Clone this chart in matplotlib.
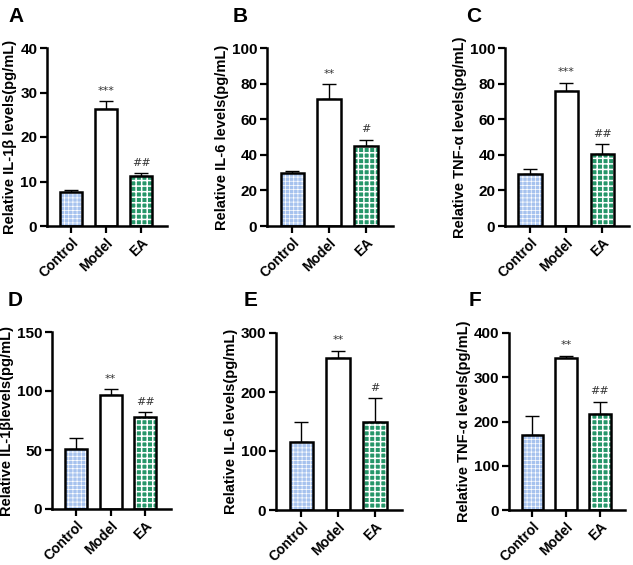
import matplotlib
matplotlib.use('Agg')
import matplotlib.pyplot as plt

plt.rcParams['font.family'] = ['Liberation Sans', 'DejaVu Sans']

groups = ['Control', 'Model', 'EA']

# panel values (mean) and upper error-bar tops
a_mean = [7.7, 26.3, 11.3]
a_top = [8.2, 28.0, 11.8]
b_mean = [30.0, 71.5, 45.0]
b_top = [31.0, 79.5, 48.5]
c_mean = [29.0, 76.0, 40.5]
c_top = [32.0, 80.5, 46.0]
d_mean = [50.5, 97.0, 78.0]
d_top = [60.0, 101.5, 82.0]
e_mean = [115.0, 258.0, 150.0]
e_top = [149.0, 270.0, 190.0]
f_mean = [170.0, 344.0, 216.0]
f_top = [213.0, 349.0, 245.0]

a_sig = ['', '***', '##']
b_sig = ['', '**', '#']
c_sig = ['', '***', '##']
d_sig = ['', '**', '##']
e_sig = ['', '**', '#']
f_sig = ['', '**', '##']

face_colors = ['#a6c2ee', 'white', '#269669']
hatches = ['++++', None, '+++']
hatch_lw = [0.5, 0, 1.1]

W, H = 633, 565
fig = plt.figure(figsize=(W / 100, H / 100), dpi=100)

panels = [
    ('A', 47, 167, 48, 226, a_mean, a_top, a_sig, 40, 10, 'Relative IL-1β levels(pg/mL)'),
    ('B', 267, 393, 48, 226, b_mean, b_top, b_sig, 100, 20, 'Relative IL-6 levels(pg/mL)'),
    ('C', 505, 629, 48, 226, c_mean, c_top, c_sig, 100, 20, 'Relative TNF-α levels(pg/mL)'),
    ('D', 52, 171, 332, 509, d_mean, d_top, d_sig, 150, 50, 'Relative IL-1βlevels(pg/mL)'),
    ('E', 276, 402, 333, 510, e_mean, e_top, e_sig, 300, 100, 'Relative IL-6 levels(pg/mL)'),
    ('F', 509, 625, 333, 510, f_mean, f_top, f_sig, 400, 100, 'Relative TNF-α levels(pg/mL)'),
]

label_pos = {'A': (8, 16), 'B': (233, 16), 'C': (466, 16),
             'D': (8, 301), 'E': (244, 301), 'F': (469, 301)}

for name, x0, x1, y0, y1, mean, top, sig, ymax, step, ylab in panels:
    ax = fig.add_axes([x0 / W, 1 - y1 / H, (x1 - x0) / W, (y1 - y0) / H])
    x = list(range(len(groups)))
    up = [t - m for t, m in zip(top, mean)]
    ax.errorbar(x, mean, yerr=[[0] * 3, up], fmt='none', ecolor='black',
                elinewidth=1.0, capsize=5, capthick=1.0, zorder=1)
    for i in x:
        if hatches[i]:
            with plt.rc_context({'hatch.linewidth': hatch_lw[i]}):
                ax.bar(i, mean[i], width=0.64, color=face_colors[i], hatch=hatches[i],
                       edgecolor='white', linewidth=0, zorder=2)
        else:
            ax.bar(i, mean[i], width=0.64, color=face_colors[i], linewidth=0, zorder=2)
        ax.bar(i, mean[i], width=0.64, fill=False, edgecolor='black',
               linewidth=1.8, zorder=3)
        if sig[i]:
            ax.text(i, top[i] + ymax * 0.03, sig[i], ha='center', va='bottom',
                    fontsize=8, color='#333333', family='DejaVu Sans')
    ax.set_xlim(-0.69, 2.74)
    ax.set_ylim(0, ymax)
    ax.set_yticks(range(0, ymax + 1, step))
    ax.set_xticks(x)
    ax.set_xticklabels(groups, rotation=45, ha='right', rotation_mode='anchor',
                       fontsize=10, fontweight='bold')
    for lab in ax.get_yticklabels():
        lab.set_fontweight('bold')
        lab.set_fontsize(11)
    ax.set_ylabel(ylab, fontsize=10.5, fontweight='bold', labelpad=2)
    for s in ['top', 'right']:
        ax.spines[s].set_visible(False)
    for s in ['left', 'bottom']:
        ax.spines[s].set_linewidth(1.8)
    ax.tick_params(axis='both', width=1.6, length=5, pad=2)
    lx, ly = label_pos[name]
    fig.text(lx / W, 1 - ly / H, name, fontsize=15, fontweight='bold',
             ha='left', va='center')

fig.savefig('out.png', dpi=100)
